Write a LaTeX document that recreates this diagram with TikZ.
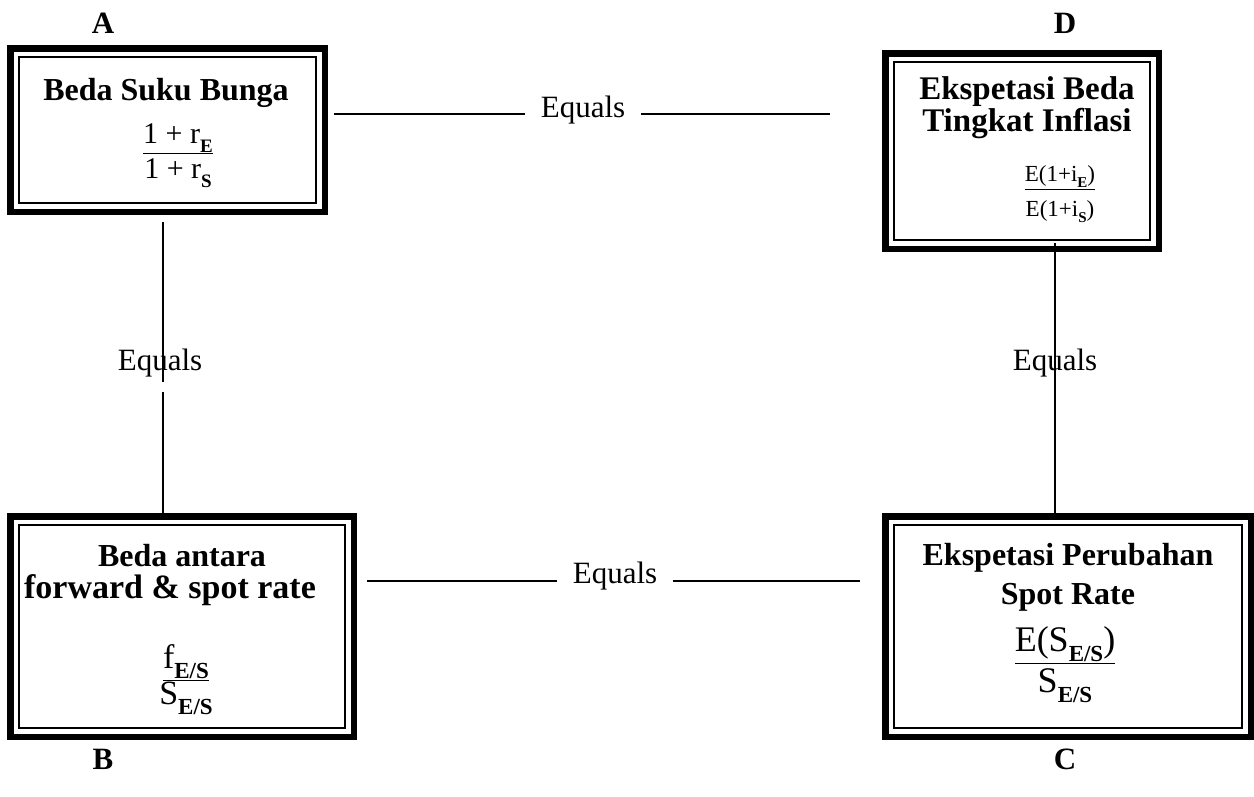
\documentclass[tikz,border=0pt]{standalone}
\usepackage{fontspec}
\setmainfont{Liberation Serif}
% lowered bold subscript: optional size, then text
\newcommand\dsub[2][18]{\raisebox{-0.3em}{\fontsize{#1}{#1}\selectfont\bfseries #2}}
\begin{document}
\begin{tikzpicture}[x=1pt,y=-1pt,
  box/.style={draw, line width=6.5pt, rectangle, inner sep=0pt,
    path picture={\draw[line width=2pt]
      ([shift={(9pt,-9pt)}]path picture bounding box.north west) rectangle
      ([shift={(-9pt,9pt)}]path picture bounding box.south east);}},
  title/.style={font=\fontsize{32}{34}\selectfont\bfseries, inner sep=0pt, anchor=base},
  corner/.style={font=\fontsize{31}{34}\selectfont\bfseries, inner sep=0pt, anchor=base},
  eqtxt/.style={font=\fontsize{31}{34}\selectfont, inner ysep=0pt, inner xsep=16pt, anchor=base},
  frac/.style={inner sep=0pt, anchor=base},
  conn/.style={line width=2pt}
]
\useasboundingbox (0,0) rectangle (1254,796);

% corner letters
\node[corner] (labA) at (103,33) {A};
\node[corner] (labB) at (103,769) {B};
\node[corner] (labD) at (1065,33) {D};
\node[corner] (labC) at (1065,769) {C};

% the four framed boxes
\node[box, minimum width=314.5pt, minimum height=163.5pt] (A) at (167.5,130) {};
\node[box, minimum width=273.5pt, minimum height=195.5pt] (D) at (1022,151) {};
\node[box, minimum width=343.5pt, minimum height=220.5pt] (B) at (182,626.5) {};
\node[box, minimum width=365.5pt, minimum height=220.5pt] (C) at (1068,626.5) {};

% box A
\node[title] (At) at (166,100) {Beda Suku Bunga};
\node[frac, font=\fontsize{30}{30}\selectfont] (An) at (178,143) {\underline{1 + r\dsub[19]{E}}};
\node[frac, font=\fontsize{30}{30}\selectfont] (Ad) at (178,178) {1 + r\dsub[19]{S}};

% box D
\node[title, font=\fontsize{33}{34}\selectfont\bfseries] (Dt1) at (1027,99) {Ekspetasi Beda};
\node[title, font=\fontsize{33}{34}\selectfont\bfseries] (Dt2) at (1027,131) {Tingkat Inflasi};
\node[frac, font=\fontsize{23}{23}\selectfont] (Dn) at (1060,181) {\underline{E(1+i\dsub[15]{E})}};
\node[frac, font=\fontsize{23}{23}\selectfont] (Dd) at (1060,216) {E(1+i\dsub[15]{S})};

% box B
\node[title] (Bt1) at (182,566) {Beda antara};
\node[title, font=\fontsize{34}{36}\selectfont\bfseries] (Bt2) at (170,598) {forward \& spot rate};
\node[frac, font=\fontsize{34}{34}\selectfont] (Bn) at (186,668) {\underline{f\dsub[23]{E/S}}};
\node[frac, font=\fontsize{34}{34}\selectfont] (Bd) at (186,704) {S\dsub[23]{E/S}};

% box C
\node[title] (Ct1) at (1068,565) {Ekspetasi Perubahan};
\node[title] (Ct2) at (1068,604) {Spot Rate};
\node[frac, font=\fontsize{36}{36}\selectfont] (Cn) at (1065,651) {\underline{E(S\dsub[23]{E/S})}};
\node[frac, font=\fontsize{36}{36}\selectfont] (Cd) at (1065,692) {S\dsub[23]{E/S}};

% "Equals" labels
\node[eqtxt] (eqAD) at (583,117) {Equals};
\node[eqtxt] (eqBC) at (615,583) {Equals};
\node[eqtxt] (eqAB) at (160,370) {Equals};
\node[eqtxt] (eqDC) at (1055,370) {Equals};

% horizontal connectors
\coordinate (adL) at (334,114);
\coordinate (adR) at (830,114);
\draw[conn] (adL) -- (adL -| eqAD.west);
\draw[conn] (adR -| eqAD.east) -- (adR);
\coordinate (bcL) at (367,581);
\coordinate (bcR) at (860,581);
\draw[conn] (bcL) -- (bcL -| eqBC.west);
\draw[conn] (bcR -| eqBC.east) -- (bcR);

% vertical connectors
\coordinate (abT) at (163,222);
\coordinate (abG1) at (163,382);
\coordinate (abG2) at (163,392);
\draw[conn] (abT) -- (abG1);
\draw[conn] (abG2) -- (abG2 |- B.north);
\coordinate (dcT) at (1055,243);
\draw[conn] (dcT) -- (dcT |- C.north);
\end{tikzpicture}
\end{document}
